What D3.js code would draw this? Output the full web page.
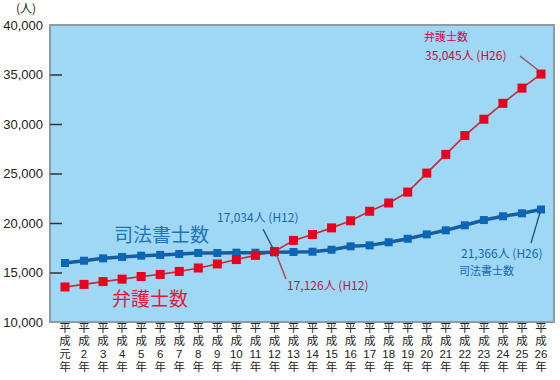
<!DOCTYPE html>
<html><head><meta charset="utf-8">
<script src="https://cdn.jsdelivr.net/npm/d3@7"></script>
<style>
html,body{margin:0;padding:0;background:#fff;}
svg{display:block;font-family:"Noto Sans CJK JP","Noto Sans",sans-serif;}
</style></head>
<body><svg id="c" width="560" height="380"></svg>
<script>
const years = ["元","2","3","4","5","6","7","8","9","10","11","12","13","14","15","16","17","18","19","20","21","22","23","24","25","26"];
const bengoshi = [13541,13800,14080,14329,14596,14809,15108,15456,15866,16305,16731,17126,18243,18838,19508,20224,21185,22021,23119,25041,26930,28828,30485,32088,33624,35045];
const shihoshoshi = [15960,16190,16430,16570,16700,16770,16870,16970,16970,17000,17000,17034,17070,17100,17300,17640,17740,18050,18410,18850,19260,19770,20300,20680,20980,21366];
const yTicks = [10000,15000,20000,25000,30000,35000,40000];

const svg = d3.select("#c");
const L=50, R=554, T=25, B=322;
const x = d3.scalePoint().domain(years).range([65,541]);
const y = d3.scaleLinear().domain([10000,40000]).range([B,T]);

svg.append("rect").attr("x",L).attr("y",T).attr("width",R-L).attr("height",B-T)
  .attr("fill","#9fd8f5").attr("stroke","#8d9ca6").attr("stroke-width",2);

const ya = svg.append("g").attr("transform",`translate(${L},0)`)
  .call(d3.axisLeft(y).tickValues(yTicks).tickFormat(d3.format(",")).tickSizeInner(-12).tickSizeOuter(0).tickPadding(7));
ya.select(".domain").remove();
ya.selectAll(".tick line").attr("stroke","#333").attr("stroke-width",1.5)
  .attr("display",d=>(d===10000||d===40000)?"none":null);
ya.selectAll(".tick text").attr("font-size",13).attr("fill","#222")
  .attr("font-family","'Liberation Sans',sans-serif");

svg.append("text").attr("x",26).attr("y",13).attr("text-anchor","middle")
  .attr("font-size",12).attr("fill","#222").text("(人)");

// x labels: stacked rows, one text per glyph row
const xl = svg.append("g").attr("font-family","'Liberation Sans','Noto Sans CJK JP',sans-serif");
years.forEach(yr=>{
  const cx = x(yr);
  [["平",332],["成",345],[yr,358],["年",371]].forEach(([t,yy])=>{
    xl.append("text").attr("x",cx).attr("y",yy).attr("text-anchor","middle")
      .attr("font-size",11.5).attr("fill","#222").text(t);
  });
});

const line = d3.line().x((d,i)=>x(years[i])).y(d=>y(d));

// red series line
svg.append("path").datum(bengoshi).attr("d",line).attr("fill","none")
  .attr("stroke","#c8283c").attr("stroke-width",1.6);
// blue series
svg.append("path").datum(shihoshoshi).attr("d",line).attr("fill","none")
  .attr("stroke","#1a5d9f").attr("stroke-width",3.5);
svg.selectAll(".mb").data(shihoshoshi).enter().append("rect")
  .attr("x",(d,i)=>x(years[i])-4).attr("y",d=>y(d)-4).attr("width",8).attr("height",8).attr("fill","#0d66b5");
svg.selectAll(".mr").data(bengoshi).enter().append("rect")
  .attr("x",(d,i)=>x(years[i])-4.5).attr("y",d=>y(d)-4.5).attr("width",9).attr("height",9).attr("fill","#e8001e");

// leader lines
const ld = (x1,y1,x2,y2,c)=>svg.append("line").attr("x1",x1).attr("y1",y1).attr("x2",x2).attr("y2",y2).attr("stroke",c).attr("stroke-width",1.3);
const i12 = years.indexOf("12"), i26 = years.indexOf("26");
ld(263,229,x(years[i12])-1,y(shihoshoshi[i12])-3,"#1d4f7e");
ld(x(years[i12])+2,y(bengoshi[i12])+3,286,279,"#c0304a");
ld(531,243,x(years[i26])-1,y(shihoshoshi[i26])+3,"#1d4f7e");
ld(520,56,x(years[i26])-3,y(bengoshi[i26])-4,"#9a4a55");

const tx = (t,xx,yy,fs,c,anchor)=>svg.append("text").attr("x",xx).attr("y",yy).attr("font-size",fs).attr("fill",c).attr("text-anchor",anchor||"start").text(t);
tx("司法書士数",114,242,19,"#1f73b8");
tx("弁護士数",112,306,19,"#e2173e");
tx(`${d3.format(",")(shihoshoshi[i12])}人 (H12)`,217,222,12,"#1a66ad");
tx(`${d3.format(",")(bengoshi[i12])}人 (H12)`,287,290,12,"#c8104a");
tx(`${d3.format(",")(shihoshoshi[i26])}人 (H26)`,461,258,12,"#1a66ad");
tx("司法書士数",459,275,11,"#1a66ad");
tx("弁護士数",424,41,11,"#d6003c");
tx(`${d3.format(",")(bengoshi[i26])}人 (H26)`,425,60,12,"#d6003c");
</script></body></html>
